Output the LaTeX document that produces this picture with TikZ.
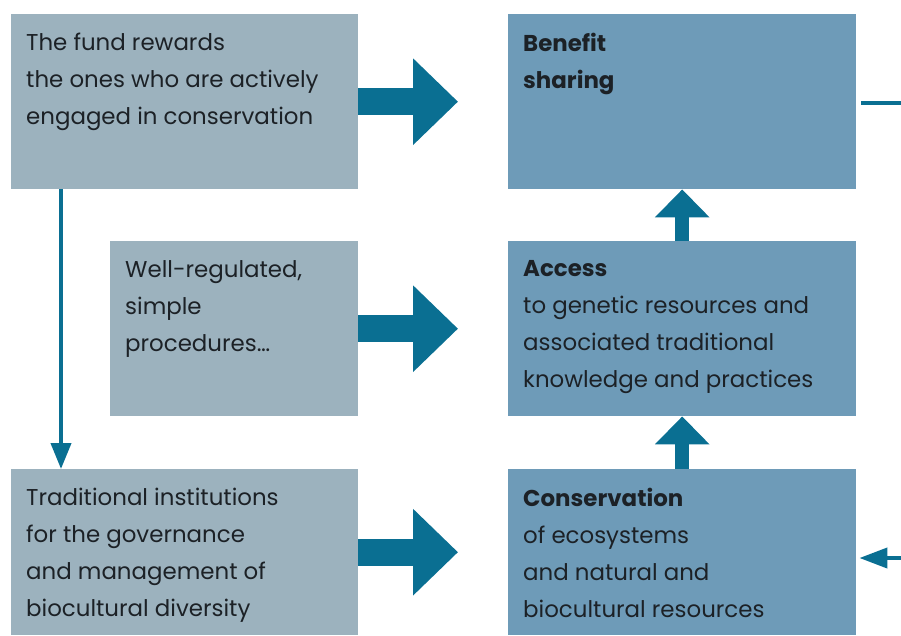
\documentclass[tikz,border=0pt]{standalone}
\usepackage{fontspec}
\setmainfont{Poppins}
\usepackage{tikz}
\usetikzlibrary{calc,arrows.meta}

\definecolor{leftbox}{HTML}{9CB2BE}
\definecolor{rightbox}{HTML}{6E9BB8}
\definecolor{arrowblue}{HTML}{0A6F92}
\definecolor{ink}{HTML}{1C2126}

\begin{document}
\begin{tikzpicture}
   [x=1pt,y=-1pt,
   every node/.style={inner sep=0pt},
   lbox/.style={fill=leftbox,anchor=north west,minimum width=347pt},
   rbox/.style={fill=rightbox,anchor=north west,minimum width=348pt},
   txt/.style={anchor=north west,align=left,text=ink,font=\fontsize{22.9}{37}\selectfont},
   bigarrow/.style={draw=arrowblue,line width=27pt,-{Triangle[length=45pt,width=84pt]},shorten >=50pt},
   uparrow/.style={draw=arrowblue,line width=14pt,-{Triangle[length=28pt,width=53pt]}},
   thinarrow/.style={draw=arrowblue,line width=4pt,-{Triangle[length=26pt,width=20pt]}}]

   \useasboundingbox (0,0) rectangle (901,635);

   % left column
   \node[lbox,minimum height=175pt] (fund) at (11,14) {};
   \node[lbox,minimum width=248pt,minimum height=175pt] (proc) at (110,241) {};
   \node[lbox,minimum height=166pt] (trad) at (11,469) {};

   % right column
   \node[rbox,minimum height=175pt] (benefit) at (508,14) {};
   \node[rbox,minimum height=175pt] (access) at (508,241) {};
   \node[rbox,minimum height=166pt] (cons) at (508,469) {};

   % texts
   \node[txt] (fundtxt) at ($(fund.north west)+(15,19)$)
      {The fund rewards\\the ones who are actively\\engaged in conservation};
   \node[txt] (proctxt) at ($(proc.north west)+(15,19)$)
      {Well-regulated,\\simple\\procedures\dots};
   \node[txt] (tradtxt) at ($(trad.north west)+(15,19)$)
      {Traditional institutions\\for the governance\\and management of\\biocultural diversity};
   \node[txt] (benefittxt) at ($(benefit.north west)+(15,19)$)
      {\textbf{Benefit}\\\textbf{sharing}};
   \node[txt] (accesstxt) at ($(access.north west)+(15,19)$)
      {\textbf{Access}\\to genetic resources and\\associated traditional\\knowledge and practices};
   \node[txt] (constxt) at ($(cons.north west)+(15,19)$)
      {\textbf{Conservation}\\of ecosystems\\and natural and\\biocultural resources};

   % block arrows
   \draw[bigarrow] (fund) -- (benefit);
   \draw[bigarrow] (proc) -- (access);
   \draw[bigarrow] (trad) -- (cons);

   \draw[uparrow] (access) -- (benefit);
   \draw[uparrow] (cons) -- (access);

   \draw[thinarrow] ([xshift=50pt]fund.south west) -- ([xshift=50pt]trad.north west);

   % loop back on the right
   \coordinate (outtop) at (901,103);
   \coordinate (inbottom) at (901,558);
   \draw[draw=arrowblue,line width=4.5pt] (outtop -| benefit.east) ++(5,0) -- (outtop);
   \draw[thinarrow,-{Triangle[length=28pt,width=20pt]},shorten >=3pt] (inbottom) -- (inbottom -| cons.east);
\end{tikzpicture}
\end{document}
